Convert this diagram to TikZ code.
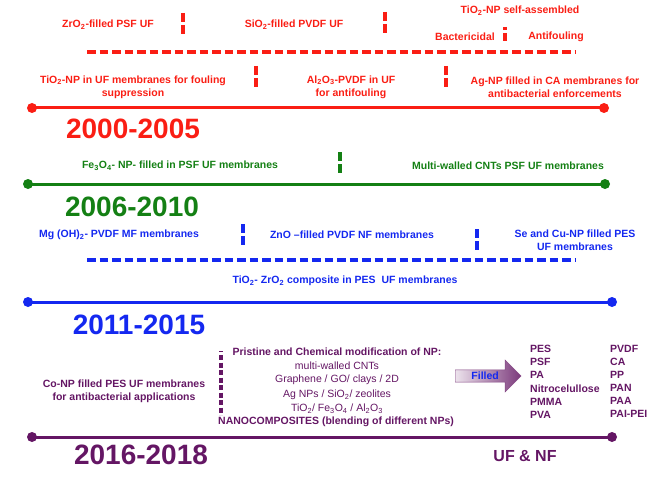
\documentclass[tikz,border=0pt]{standalone}
\usepackage{fontspec}
\setmainfont{Liberation Sans}
\usetikzlibrary{shapes.arrows}

\definecolor{rojo}{RGB}{250,30,20}
\definecolor{verde}{RGB}{20,128,20}
\definecolor{azul}{RGB}{20,40,240}
\definecolor{morado}{RGB}{100,22,100}

\tikzset{
	txt/.style={font=\fontsize{10.5}{13}\selectfont\bfseries, align=center, inner sep=1pt},
	fino/.style={font=\fontsize{10.5}{13}\selectfont, align=center, inner sep=1pt},
	anio/.style={font=\fontsize{28}{30}\selectfont\bfseries, inner sep=0pt},
	linea/.style={line width=3pt},
	guion/.style={line width=3.3pt, dash pattern=on 8.5pt off 4pt},
	marca/.style={line width=3.3pt, dash pattern=on 9pt off 3pt},
}

\begin{document}
\begin{tikzpicture}[x=1pt,y=-1pt]
	\useasboundingbox (0,0) rectangle (658,492);

		%Linea de tiempo 2000-2005
		\coordinate (r0) at (32,108);
		\coordinate (r1) at (604,108);
		\draw[linea,color=rojo] (r0) -- (r1);
		\fill[rojo] (r0) circle (5) (r1) circle (5);
		\coordinate (rg0) at (87,52);
		\coordinate (rg1) at (576,52);
		\draw[guion,color=rojo] (rg0) -- (rg1);
		%Marcas rojas
		\draw[marca,color=rojo] (183,13) -- (183,35);
		\draw[marca,color=rojo] (385,12) -- (385,34);
		\draw[line width=3.3pt,color=rojo,dash pattern=on 3pt off 3pt on 8pt off 3pt] (505,27) -- (505,41);
		\draw[marca,color=rojo] (256,66) -- (256,88);
		\draw[marca,color=rojo] (446,66) -- (446,88);

		\node[txt,color=rojo] (zro) at (108,25) {ZrO\textsubscript{2}-filled PSF UF};
		\node[txt,color=rojo] (sio) at (294,25) {SiO\textsubscript{2}-filled PVDF UF};
		\node[txt,color=rojo] (tiself) at (520,11) {TiO\textsubscript{2}-NP self-assembled};
		\node[txt,color=rojo] (bact) at (465,37) {Bactericidal};
		\node[txt,color=rojo] (antif) at (556,37) {Antifouling};
		\node[txt,color=rojo] (tiuf) at (133,87) {TiO\textsubscript{2}-NP in UF membranes for fouling\\suppression};
		\node[txt,color=rojo] (alo) at (351,87) {Al\textsubscript{2}O\textsubscript{3}-PVDF in UF\\for antifouling};
		\node[txt,color=rojo] (agnp) at (555,87) {Ag-NP filled in CA membranes for\\antibacterial enforcements};
		\node[anio,color=rojo] (a1) at (133,129) {2000-2005};

		%Linea de tiempo 2006-2010
		\coordinate (v0) at (28,184);
		\coordinate (v1) at (605,184);
		\draw[linea,color=verde] (v0) -- (v1);
		\fill[verde] (v0) circle (5) (v1) circle (5);
		\draw[marca,color=verde] (340,152) -- (340,174);
		\node[txt,color=verde] (feo) at (180,166) {Fe\textsubscript{3}O\textsubscript{4}- NP- filled in PSF UF membranes};
		\node[txt,color=verde] (mwcnt) at (508,166) {Multi-walled CNTs PSF UF membranes};
		\node[anio,color=verde] (a2) at (132,207) {2006-2010};

		%Linea de tiempo 2011-2015
		\coordinate (b0) at (28,302);
		\coordinate (b1) at (612,302);
		\draw[linea,color=azul] (b0) -- (b1);
		\fill[azul] (b0) circle (5) (b1) circle (5);
		\coordinate (bg0) at (87,260);
		\coordinate (bg1) at (575,260);
		\draw[guion,color=azul] (bg0) -- (bg1);
		\draw[marca,color=azul] (243,224) -- (243,246);
		\draw[marca,color=azul] (477,229) -- (477,251);
		\node[txt,color=azul] (mgoh) at (119,235) {Mg (OH)\textsubscript{2}- PVDF MF membranes};
		\node[txt,color=azul] (zno) at (352,235) {ZnO --filled PVDF NF membranes};
		\node[txt,color=azul] (secu) at (575,240) {Se and Cu-NP filled PES\\UF membranes};
		\node[txt,color=azul] (tizr) at (345,281) {TiO\textsubscript{2}- ZrO\textsubscript{2} composite in PES\ \ UF membranes};
		\node[anio,color=azul] (a3) at (139,325) {2011-2015};

		%Linea de tiempo 2016-2018
		\coordinate (m0) at (32,437);
		\coordinate (m1) at (612,437);
		\draw[linea,color=morado] (m0) -- (m1);
		\fill[morado] (m0) circle (5) (m1) circle (5);
		\draw[line width=3.3pt,color=morado,dash pattern=on 1pt off 3pt on 5pt off 2.5pt on 5pt off 2.5pt on 5pt off 2.5pt on 5pt off 2.5pt on 5pt off 2.5pt on 5pt off 2.5pt on 5pt off 2.5pt on 5pt off 2.5pt on 5pt off 2.5pt] (221,351) -- (221,415);
		\node[txt,color=morado] (conp) at (124,391) {Co-NP filled PES UF membranes\\for antibacterial applications};
		\node[txt,color=morado] (prist) at (337,352) {Pristine and Chemical modification of NP:};
		\node[fino,color=morado] (mw) at (337,366) {multi-walled CNTs};
		\node[fino,color=morado] (graf) at (337,380) {Graphene / GO/ clays / 2D};
		\node[fino,color=morado] (agsi) at (337,395) {Ag NPs / SiO\textsubscript{2}/ zeolites};
		\node[fino,color=morado] (tife) at (337,409) {TiO\textsubscript{2}/ Fe\textsubscript{3}O\textsubscript{4} / Al\textsubscript{2}O\textsubscript{3}};
		\node[txt,color=morado] (nano) at (336,422) {NANOCOMPOSITES (blending of different NPs)};
		%Flecha Filled
		\node[single arrow, draw=morado!80, thin, left color=morado!12, right color=morado!85,
			minimum width=16pt, minimum height=66pt, single arrow head extend=10pt,
			inner sep=2pt, anchor=tail, font=\fontsize{10.5}{12}\selectfont\bfseries, text=azul] (flecha) at (455,376) {Filled};
		\node[txt,color=morado,align=left,anchor=north west,inner sep=0pt,font=\fontsize{10.5}{13.2}\selectfont\bfseries] (pol1) at (530,345)
			{PES\\PSF\\PA\\Nitrocelullose\\PMMA\\PVA};
		\node[txt,color=morado,align=left,anchor=north west,inner sep=0pt,font=\fontsize{10.5}{13}\selectfont\bfseries] (pol2) at (610,345)
			{PVDF\\CA\\PP\\PAN\\PAA\\PAI-PEI};
		\node[anio,color=morado] (a4) at (141,455) {2016-2018};
		\node[color=morado,font=\fontsize{16}{18}\selectfont\bfseries] (ufnf) at (525,456) {UF \& NF};

\end{tikzpicture}
\end{document}
